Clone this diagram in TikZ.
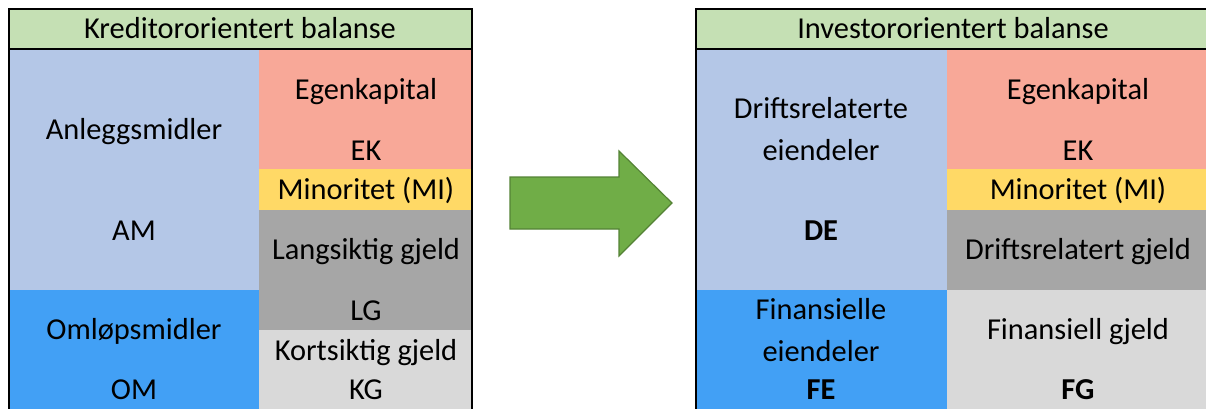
\documentclass[tikz,border=0pt]{standalone}
\usepackage{fontspec}
\setmainfont{Carlito}
\usetikzlibrary{positioning}
\definecolor{headgreen}{HTML}{C5E0B4}
\definecolor{lightblue}{HTML}{B4C7E7}
\definecolor{strongblue}{HTML}{42A0F5}
\definecolor{salmon}{HTML}{F8A898}
\definecolor{mustard}{HTML}{FFD966}
\definecolor{darkgrey}{HTML}{A6A6A6}
\definecolor{lightgrey}{HTML}{D9D9D9}
\definecolor{arrowfill}{HTML}{70AD47}
\definecolor{arrowline}{HTML}{548235}

\begin{document}
\begin{tikzpicture}[x=0.5pt,y=-0.5pt,every node/.style={align=center,inner sep=0pt,font=\fontsize{15.2}{18}\selectfont,
  text height=9.8pt,text depth=0pt},
  twoline/.style={text height={},text depth={}},
  frame/.style={line width=1pt,black}]
\useasboundingbox (0,0) rectangle (1206,408);
\clip (0,0) rectangle (1206,408);

% kreditororientert balanse
\fill[headgreen] (9,9) rectangle (472,49);
\fill[lightblue] (9,49) rectangle (259,290);
\fill[strongblue] (9,290) rectangle (259,430);
\fill[salmon] (259,49) rectangle (472,169);
\fill[mustard] (259,169) rectangle (472,210);
\fill[darkgrey] (259,210) rectangle (472,330);
\fill[lightgrey] (259,330) rectangle (472,430);
\draw[frame] (9,430) -- (9,9) -- (472,9) -- (472,430);
\draw[frame] (9,49) -- (472,49);

\node (kredhead) at (240,29) {Kreditororientert balanse};
\node (am) at (134,130) {Anleggsmidler};
\node (amshort) at (134,231) {AM};
\node (om) at (134,330) {Omløpsmidler};
\node (omshort) at (134,390) {OM};
\node (ek) at (366,90) {Egenkapital};
\node (ekshort) at (366,151) {EK};
\node (mi) at (366,190) {Minoritet (MI)};
\node (lg) at (366,250) {Langsiktig gjeld};
\node (lgshort) at (366,311) {LG};
\node (kg) at (366,351) {Kortsiktig gjeld};
\node (kgshort) at (366,390) {KG};

% pil
\draw[arrowline,fill=arrowfill,line width=0.6pt] (510,177) -- (619,177) -- (619,151) -- (672,203)
  -- (619,256) -- (619,229) -- (510,229) -- cycle;

% investororientert balanse
\fill[headgreen] (696,9) rectangle (1212,49);
\fill[lightblue] (696,49) rectangle (947,290);
\fill[strongblue] (696,290) rectangle (947,430);
\fill[salmon] (947,49) rectangle (1212,169);
\fill[mustard] (947,169) rectangle (1212,210);
\fill[darkgrey] (947,210) rectangle (1212,290);
\fill[lightgrey] (947,290) rectangle (1212,430);
\draw[frame] (696,430) -- (696,9) -- (1212,9) -- (1212,430);
\draw[frame] (696,49) -- (1212,49);

\node (invhead) at (953,29) {Investororientert balanse};
\node[twoline] (de) at (821,129) {Driftsrelaterte\\[3pt]eiendeler};
\node (deshort) at (821,231) {\textbf{DE}};
\node[twoline] (fe) at (821,330) {Finansielle\\[3pt]eiendeler};
\node (feshort) at (821,390) {\textbf{FE}};
\node (iek) at (1078,90) {Egenkapital};
\node (iekshort) at (1078,151) {EK};
\node (imi) at (1078,190) {Minoritet (MI)};
\node (dg) at (1078,250) {Driftsrelatert gjeld};
\node (fg) at (1078,330) {Finansiell gjeld};
\node (fgshort) at (1078,390) {\textbf{FG}};
\end{tikzpicture}
\end{document}
